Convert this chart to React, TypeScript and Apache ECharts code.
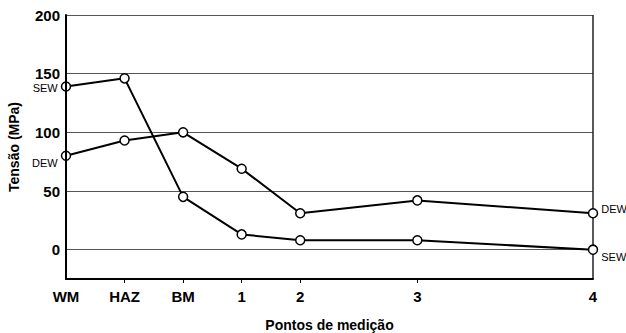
import React, { useEffect, useRef } from "react";
import * as echarts from "echarts";

const categories = ["WM", "HAZ", "BM", "1", "2", "3", "4"];
const positions = [0, 1, 2, 3, 4, 6, 9];
const sewValues = [139, 146, 45, 13, 8, 8, 0];
const dewValues = [80, 93, 100, 69, 31, 42, 31];
const yTicks = [0, 50, 100, 150, 200];
const gridLines = [0, 50, 100, 150, 200];

export default function App() {
  const ref = useRef<HTMLDivElement>(null);
  useEffect(() => {
    const chart = echarts.init(ref.current!, null, { renderer: "svg" });
    const font = "'Liberation Sans', Arial, sans-serif";
    const mkData = (vals: number[], name: string, leftOff: number[], rightOff: number[]) =>
      vals.map((v, i) => {
        const item: any = { value: [positions[i], v] };
        if (i === 0) {
          item.label = { show: true, position: "left", formatter: name, offset: leftOff, distance: 3 };
        } else if (i === vals.length - 1) {
          item.label = { show: true, position: "right", formatter: name, offset: rightOff, distance: 3 };
        }
        return item;
      });
    const seriesCommon = {
      type: "line",
      symbol: "circle",
      symbolSize: 9,
      lineStyle: { color: "#000", width: 2 },
      itemStyle: { color: "#fff", borderColor: "#000", borderWidth: 1.5 },
      label: { color: "#000", fontFamily: font, fontSize: 11 },
      emphasis: { disabled: true },
      z: 3,
    };
    chart.setOption({
      animation: false,
      backgroundColor: "#fff",
      grid: {
        left: 66,
        right: 33,
        top: 15,
        bottom: 54,
        outerBoundsMode: "none",
        containLabel: false,
        show: false,
      },
      xAxis: {
        type: "value",
        min: 0,
        max: 9,
        name: "Pontos de medição",
        nameLocation: "middle",
        nameGap: 39,
        nameTextStyle: { fontFamily: font, fontWeight: "bold", fontSize: 14, color: "#000" },
        axisLine: { onZero: false, lineStyle: { color: "#000", width: 2 } },
        axisTick: { show: true, customValues: positions.slice(1, 6), length: 4, inside: false, lineStyle: { color: "#000" } },
        axisLabel: {
          customValues: positions,
          formatter: (v: number) => {
            const i = positions.indexOf(v);
            return i >= 0 ? categories[i] : "";
          },
          fontFamily: font,
          fontWeight: "bold",
          fontSize: 15,
          color: "#000",
          margin: 10,
        },
        splitLine: { show: false },
        z: 5,
      },
      yAxis: {
        type: "value",
        min: -25,
        max: 200,
        name: "Tensão (MPa)",
        nameLocation: "middle",
        nameGap: 45,
        nameTextStyle: { fontFamily: font, fontWeight: "bold", fontSize: 14, color: "#000" },
        axisLine: { show: true, onZero: false, lineStyle: { color: "#000", width: 2 } },
        axisTick: { show: false },
        axisLabel: {
          customValues: yTicks,
          fontFamily: font,
          fontWeight: "bold",
          fontSize: 15,
          color: "#000",
          margin: 6,
        },
        splitLine: { show: false },
        z: 5,
      },
      series: [
        {
          ...seriesCommon,
          name: "SEW",
          data: mkData(sewValues, "SEW", [0, 1], [0, 7]),
          markLine: {
            silent: true,
            symbol: "none",
            label: { show: false },
            lineStyle: { color: "#555", width: 1, type: "solid" },
            data: [
              ...gridLines.map((y) => ({ yAxis: y })),
              { xAxis: 9, lineStyle: { color: "#222", width: 1.5 } },
            ],
            z: 1,
          },
        },
        {
          ...seriesCommon,
          name: "DEW",
          data: mkData(dewValues, "DEW", [0, 7], [0, -4]),
        },
      ],
    });
    return () => chart.dispose();
  }, []);
  return (
    <div
      ref={ref}
      style={{ position: "absolute", left: 0, top: 0, width: 626, height: 333 }}
    />
  );
}
